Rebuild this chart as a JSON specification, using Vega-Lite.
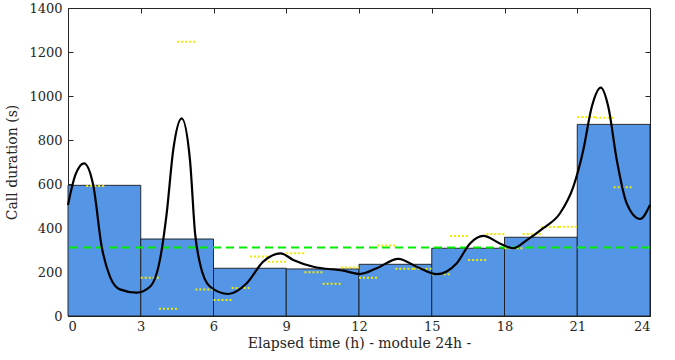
{
  "$schema": "https://vega.github.io/schema/vega-lite/v6.json",
  "width": 582,
  "height": 308,
  "autosize": {"type": "none"},
  "padding": {"left": 68, "top": 8, "right": 25, "bottom": 44},
  "background": "white",
  "config": {
    "font": "serif",
    "view": {"stroke": "#262626", "strokeWidth": 1},
    "axis": {
      "grid": false,
      "domain": false,
      "labelFont": "DejaVu Serif",
      "labelFontSize": 13,
      "labelColor": "#262626",
      "titleFont": "DejaVu Serif",
      "titleFontSize": 14,
      "titleFontWeight": "normal",
      "titleColor": "#262626",
      "tickColor": "#262626",
      "tickSize": -5,
      "tickWidth": 1
    }
  },
  "datasets": {
    "bins": [
      {"start": 0, "end": 3, "dur": 594},
      {"start": 3, "end": 6, "dur": 350},
      {"start": 6, "end": 9, "dur": 217},
      {"start": 9, "end": 12, "dur": 214},
      {"start": 12, "end": 15, "dur": 235},
      {"start": 15, "end": 18, "dur": 308},
      {"start": 18, "end": 21, "dur": 358},
      {"start": 21, "end": 24, "dur": 871}
    ],
    "segs": [
      {"s": 0.75, "e": 1.5, "v": 591},
      {"s": 3.0, "e": 3.75, "v": 174},
      {"s": 3.75, "e": 4.5, "v": 33},
      {"s": 4.5, "e": 5.25, "v": 1247},
      {"s": 5.25, "e": 6.0, "v": 120},
      {"s": 6.0, "e": 6.75, "v": 73},
      {"s": 6.75, "e": 7.5, "v": 127},
      {"s": 7.5, "e": 8.25, "v": 270},
      {"s": 8.25, "e": 9.0, "v": 247},
      {"s": 9.0, "e": 9.75, "v": 285},
      {"s": 9.75, "e": 10.5, "v": 199},
      {"s": 10.5, "e": 11.25, "v": 147},
      {"s": 11.25, "e": 12.0, "v": 221},
      {"s": 12.0, "e": 12.75, "v": 174},
      {"s": 12.75, "e": 13.5, "v": 321},
      {"s": 13.5, "e": 14.25, "v": 215},
      {"s": 14.25, "e": 15.0, "v": 215},
      {"s": 15.0, "e": 15.75, "v": 190},
      {"s": 15.75, "e": 16.5, "v": 364},
      {"s": 16.5, "e": 17.25, "v": 255},
      {"s": 17.25, "e": 18.0, "v": 373},
      {"s": 18.0, "e": 18.75, "v": 308},
      {"s": 18.75, "e": 19.5, "v": 373},
      {"s": 19.5, "e": 20.25, "v": 405},
      {"s": 20.25, "e": 21.0, "v": 406},
      {"s": 21.0, "e": 21.75, "v": 905},
      {"s": 21.75, "e": 22.5, "v": 901},
      {"s": 22.5, "e": 23.25, "v": 585}
    ],
    "curve": [
      {"h": 0.0, "v": 505},
      {"h": 0.3, "v": 640},
      {"h": 0.66, "v": 694},
      {"h": 1.04, "v": 595},
      {"h": 1.39, "v": 315},
      {"h": 1.73, "v": 179},
      {"h": 2.14, "v": 121},
      {"h": 2.83, "v": 106},
      {"h": 3.38, "v": 133},
      {"h": 3.79, "v": 255},
      {"h": 4.07, "v": 467},
      {"h": 4.34, "v": 755},
      {"h": 4.69, "v": 898},
      {"h": 5.03, "v": 709},
      {"h": 5.24, "v": 376},
      {"h": 5.44, "v": 240},
      {"h": 5.86, "v": 133},
      {"h": 6.61, "v": 100},
      {"h": 7.37, "v": 149},
      {"h": 8.05, "v": 247},
      {"h": 8.77, "v": 285},
      {"h": 9.29, "v": 255},
      {"h": 10.12, "v": 224},
      {"h": 11.35, "v": 206},
      {"h": 12.04, "v": 191},
      {"h": 12.73, "v": 217},
      {"h": 13.62, "v": 260},
      {"h": 14.38, "v": 224},
      {"h": 15.2, "v": 190},
      {"h": 16.03, "v": 240},
      {"h": 16.58, "v": 330},
      {"h": 17.13, "v": 364},
      {"h": 17.81, "v": 330},
      {"h": 18.36, "v": 308},
      {"h": 18.92, "v": 345},
      {"h": 19.6, "v": 399},
      {"h": 20.29, "v": 467},
      {"h": 20.84, "v": 588},
      {"h": 21.25, "v": 755},
      {"h": 21.6, "v": 951},
      {"h": 21.97, "v": 1038},
      {"h": 22.28, "v": 951},
      {"h": 22.63, "v": 709},
      {"h": 23.04, "v": 512},
      {"h": 23.59, "v": 441},
      {"h": 24.0, "v": 505}
    ],
    "mean": [{"v": 311}]
  },
  "resolve": {"axis": {"x": "independent", "y": "independent"}},
  "layer": [
    {
      "layer": [
        {
          "data": {"name": "bins"},
          "mark": {"type": "rect", "fill": "#5495e6", "stroke": "#1a1a1a", "strokeWidth": 0.9},
          "encoding": {
            "x": {"field": "start", "type": "quantitative",
              "scale": {"domain": [0, 24], "nice": false, "zero": false},
              "axis": {"values": [0, 3, 6, 9, 12, 15, 18, 21, 24], "format": "d", "title": "Elapsed time (h) - module 24h -", "labelPadding": 9, "titlePadding": 3}},
            "x2": {"field": "end"},
            "y": {"field": "dur", "type": "quantitative",
              "scale": {"domain": [0, 1400], "nice": false},
              "axis": {"values": [0, 200, 400, 600, 800, 1000, 1200, 1400], "format": "d", "title": "Call duration (s)", "labelPadding": 11, "titlePadding": 9}},
            "y2": {"datum": 0}
          }
        },
        {
          "data": {"name": "mean"},
          "mark": {"type": "rule", "color": "#00ee00", "strokeWidth": 2, "strokeDash": [8, 5]},
          "encoding": {"y": {"field": "v", "type": "quantitative"}}
        },
        {
          "data": {"name": "segs"},
          "mark": {"type": "rule", "color": "#f2ea00", "strokeWidth": 2, "strokeDash": [2, 2]},
          "encoding": {
            "x": {"field": "s", "type": "quantitative"},
            "x2": {"field": "e"},
            "y": {"field": "v", "type": "quantitative"}
          }
        },
        {
          "data": {"name": "curve"},
          "mark": {"type": "line", "color": "black", "strokeWidth": 2.2, "interpolate": "monotone"},
          "encoding": {
            "x": {"field": "h", "type": "quantitative"},
            "y": {"field": "v", "type": "quantitative"}
          }
        }
      ]
    },
    {
      "data": {"name": "mean"},
      "mark": {"type": "rule", "opacity": 0},
      "encoding": {
        "x": {"datum": 0, "type": "quantitative",
          "axis": {"orient": "top", "values": [0, 3, 6, 9, 12, 15, 18, 21, 24], "labels": false, "title": null}},
        "y": {"field": "v", "type": "quantitative",
          "axis": {"orient": "right", "values": [0, 200, 400, 600, 800, 1000, 1200, 1400], "labels": false, "title": null}}
      }
    }
  ]
}
